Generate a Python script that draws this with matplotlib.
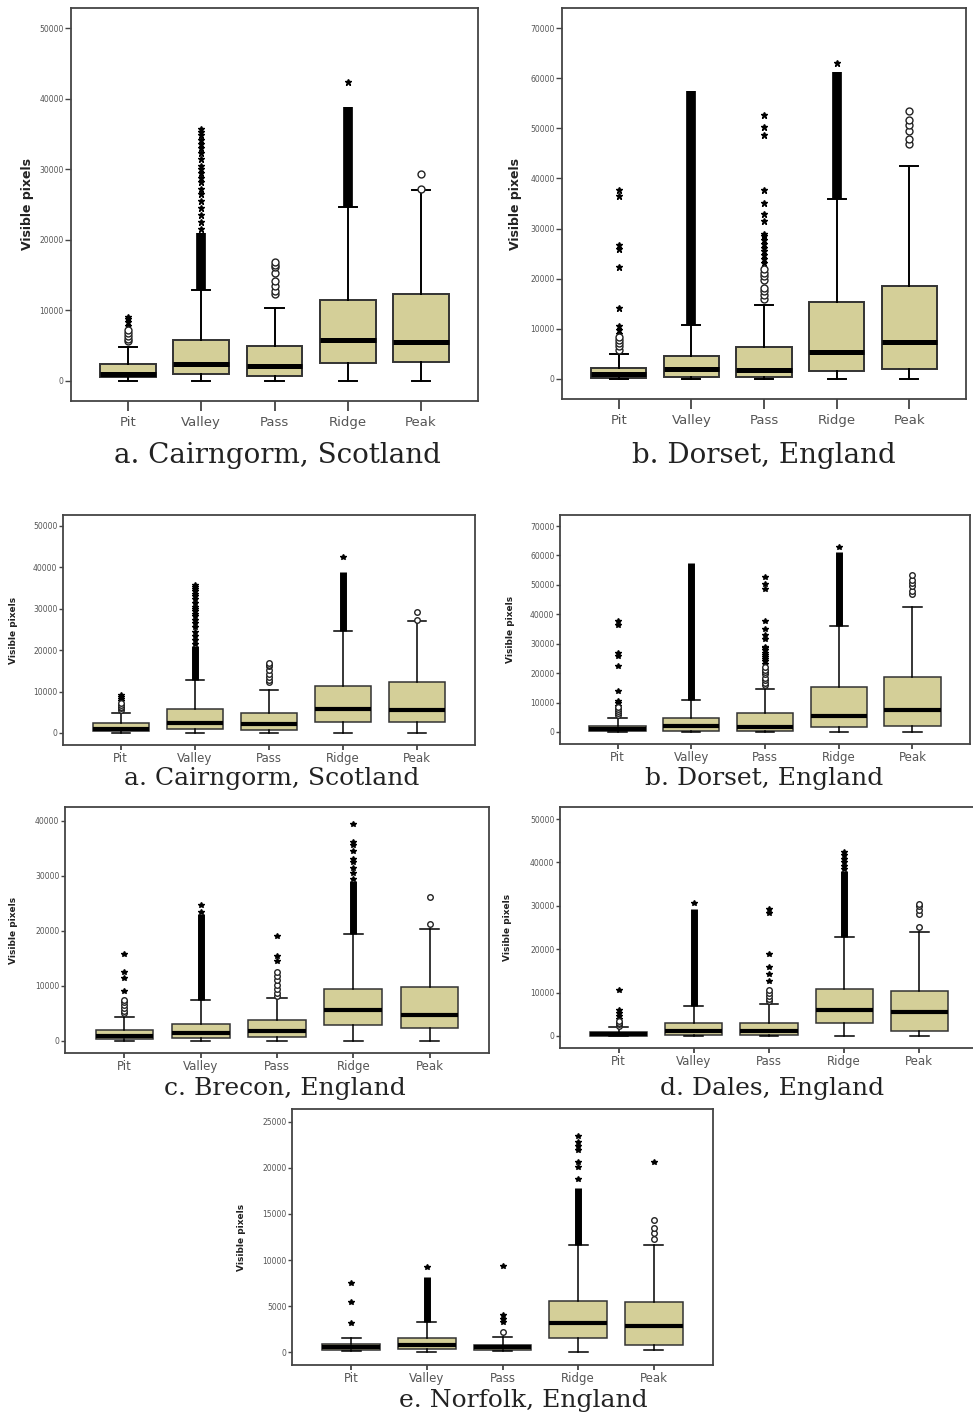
import numpy as np
import matplotlib
matplotlib.use('agg')
from matplotlib import pyplot as plt

cats = ['Pit', 'Valley', 'Pass', 'Ridge', 'Peak']

# (lower whisker, q1, median, q3, upper whisker) per category
cair_box = [(0, 570, 1040, 2370, 4800), (0, 950, 2460, 5770, 12900), (0, 700, 2100, 4900, 10300),
            (0, 2550, 5770, 11450, 24700), (0, 2700, 5500, 12300, 27000)]
cair_circles = [[5600, 6000, 6400, 6800, 7200], [], [12300, 12800, 13500, 14200, 15300, 16100, 16500, 16800], [], [27200, 29300]]
cair_stars = [[7800, 8300, 8800, 9100],
              [21500, 22500, 23500, 24500, 25500, 26500, 27200, 28200, 28800, 29500, 30000, 30500, 31500,
               32300, 33000, 33600, 34200, 34800, 35300, 35700],
              [], [42400], []]
cair_bands = [[], [(12900, 21000)], [], [(24700, 38800)], []]

dors_box = [(0, 270, 1000, 2100, 4900), (0, 460, 1900, 4600, 10800), (0, 460, 1800, 6400, 14700),
            (0, 1660, 5300, 15400, 35900), (0, 1900, 7400, 18600, 42500)]
dors_circles = [[5800, 6500, 7200, 7800, 8400], [], [16000, 16800, 17500, 18200, 19800, 20500, 21200, 22000], [],
                [46800, 47900, 49500, 50600, 51700, 53400]]
dors_stars = [[9000, 9800, 10500, 14100, 22400, 25900, 26800, 36500, 37600], [],
              [23200, 24000, 24800, 25500, 26200, 27000, 27800, 28500, 29000, 31500, 33000, 35000, 37700,
               48600, 50200, 52600],
              [63000], []]
dors_bands = [[], [(10800, 57400)], [], [(35900, 61200)], []]

brec_box = [(0, 300, 970, 2060, 4400), (0, 550, 1450, 3150, 7400), (0, 670, 1820, 3760, 7900),
            (0, 2970, 5700, 9500, 19500), (0, 2400, 4670, 9800, 20400)]
brec_circles = [[5000, 5500, 6000, 6500, 7000, 7400], [], [8200, 8800, 9500, 10200, 11000, 11800, 12500], [], [21200, 26100]]
brec_stars = [[9100, 11400, 12500, 15800], [23500, 24700], [14500, 15400, 19000],
              [29500, 30500, 31500, 32500, 33000, 34600, 35600, 36200, 39400], []]
brec_bands = [[], [(7400, 23000)], [], [(19500, 29000)], []]

dale_box = [(0, 80, 380, 1000, 2150), (0, 150, 1150, 2900, 7000), (0, 150, 1150, 3070, 7400),
            (0, 2900, 6000, 10800, 22900), (0, 1230, 5450, 10400, 23900)]
dale_circles = [[2300, 2700, 3100, 3500], [], [8000, 8600, 9200, 9800, 10500], [], [25200, 28000, 29000, 30000, 30500]]
dale_stars = [[4000, 4600, 5200, 6000, 10500], [30600], [12600, 14300, 16000, 18800, 28300, 29200],
              [38500, 39200, 40000, 40800, 41600, 42500], []]
dale_bands = [[], [(7000, 29300)], [], [(22900, 38000)], []]

norf_box = [(100, 250, 540, 900, 1500), (0, 330, 800, 1550, 3300), (100, 220, 500, 800, 1600),
            (0, 1480, 3140, 5500, 11600), (180, 720, 2850, 5400, 11600)]
norf_circles = [[], [], [2200], [], [12300, 12900, 13500, 14400]]
norf_stars = [[3200, 5400, 7500], [9200], [3300, 3600, 4000, 9300],
              [18800, 20100, 20700, 22000, 22400, 22800, 23500], [20700]]
norf_bands = [[], [(3300, 8200)], [], [(11600, 17800)], []]

titles = ['a. Cairngorm, Scotland', 'b. Dorset, England', 'a. Cairngorm, Scotland', 'b. Dorset, England',
          'c. Brecon, England', 'd. Dales, England', 'e. Norfolk, England']

W, H = 973, 1414
fig = plt.figure(figsize=(W / 100, H / 100), dpi=100)

FILL = '#d4cf98'
EDGE = '#333333'

# panels: data, pixel box (l, t, r, b), y max / step, ylim, title centre, ylabel x, big(top row)
panels = [
    (cair_box, cair_circles, cair_stars, cair_bands, (71, 8, 478, 401), 50000, 10000, (-2833, 52833), (277, 455), 28, True),
    (dors_box, dors_circles, dors_stars, dors_bands, (562, 8, 966, 399), 70000, 10000, (-3989, 73989), (764, 455), 515, True),
    (cair_box, cair_circles, cair_stars, cair_bands, (63, 515, 475, 745), 50000, 10000, (-2899, 52657), (272, 779), 13, False),
    (dors_box, dors_circles, dors_stars, dors_bands, (560, 515, 970, 744), 70000, 10000, (-4078, 73738), (764, 778), 511, False),
    (brec_box, brec_circles, brec_stars, brec_bands, (65, 807, 489, 1053), 40000, 10000, (-2182, 42545), (285, 1089), 13, False),
    (dale_box, dale_circles, dale_stars, dale_bands, (560, 807, 978, 1048), 50000, 10000, (-2765, 52765), (772, 1089), 508, False),
    (norf_box, norf_circles, norf_stars, norf_bands, (292, 1109, 713, 1365), 25000, 5000, (-1413, 26413), (523, 1400), 242, False),
]

for i, (box, circ, star, band, px, ymax, step, ylim, tpos, ylx, big) in enumerate(panels):
    l, t, r, b = px
    ax = fig.add_axes([l / W, 1 - b / H, (r - l) / W, (b - t) / H])
    stats = []
    for k, c in enumerate(cats):
        lo, q1, med, q3, hi = box[k]
        stats.append(dict(label=c, whislo=lo, q1=q1, med=med, q3=q3, whishi=hi, fliers=[]))
    lw = 1.4 if big else 1.1
    ax.bxp(stats, positions=range(1, 6), widths=0.76, capwidths=0.25, patch_artist=True, showfliers=False,
           boxprops=dict(facecolor=FILL, edgecolor=EDGE, linewidth=lw),
           medianprops=dict(color='black', linewidth=3.6 if big else 3.0, solid_capstyle='butt'),
           whiskerprops=dict(color='black', linewidth=lw),
           capprops=dict(color='black', linewidth=lw))
    for k in range(5):
        for lo, hi in band[k]:
            ax.vlines(k + 1, lo, hi, color='black', linewidth=7 if big else 5, zorder=3)
        if star[k]:
            ax.plot([k + 1] * len(star[k]), star[k], linestyle='none', marker='*', color='black',
                    markersize=5 if big else 4, zorder=4)
        if circ[k]:
            ax.plot([k + 1] * len(circ[k]), circ[k], linestyle='none', marker='o', markerfacecolor='white',
                    markeredgecolor='#222222', markeredgewidth=1.0, markersize=5 if big else 4, zorder=4)
    ax.set_xlim(0.22, 5.78)
    ax.set_ylim(*ylim)
    yt = list(range(0, ymax + 1, step))
    ax.set_yticks(yt)
    ax.set_yticklabels([str(v) for v in yt], fontsize=5.5, color='#555555')
    ax.set_xticks(range(1, 6))
    ax.set_xticklabels(cats, fontsize=9.5 if big else 8.5, color='#555555')
    ax.tick_params(axis='x', length=7 if big else 3.6, width=1.3, color='#444444', pad=4 if big else 1.2)
    ax.tick_params(axis='y', length=4.3 if big else 3, width=1.0, color='#444444', pad=1)
    for s in ax.spines.values():
        s.set_linewidth(1.3)
        s.set_color('#444444')
    fig.text(ylx / W, 1 - ((t + b) / 2) / H, 'Visible pixels', rotation=90, ha='center', va='center',
             fontsize=9 if big else 6.5, fontweight='bold', color='#222222')
    fig.text(tpos[0] / W, 1 - tpos[1] / H, titles[i], ha='center', va='center', family='DejaVu Serif',
             fontsize=20 if big else 18, color='#222222')

fig.savefig('out.png', dpi=100)
